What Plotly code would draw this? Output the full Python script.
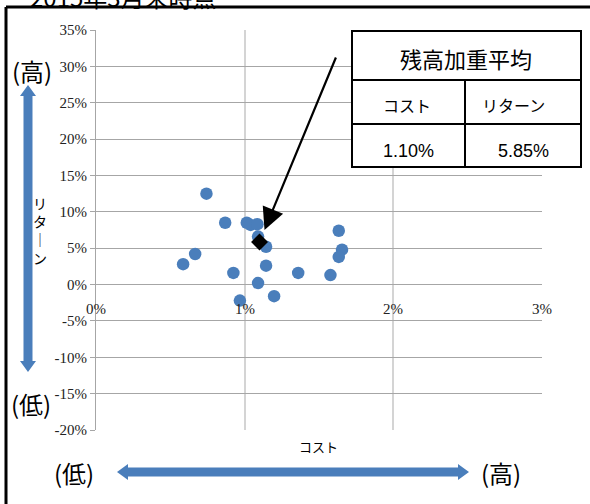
import plotly.graph_objects as go

# ---- data ----
cost = [0.743, 0.869, 1.014, 1.04, 1.086, 1.09, 1.144, 0.667, 0.586, 0.924,
        1.144, 1.09, 1.36, 1.577, 1.633, 1.655, 1.633, 0.968, 1.198]
ret = [12.5, 8.5, 8.5, 8.2, 8.3, 6.6, 5.2, 4.2, 2.8, 1.6,
       2.6, 0.2, 1.6, 1.3, 7.4, 4.8, 3.8, -2.2, -1.6]
avg_cost = 1.10
avg_ret = 5.85
x_tick_vals = [0, 1, 2, 3]
x_tick_text = ["0%", "1%", "2%", "3%"]
y_tick_vals = [-20, -15, -10, -5, 0, 5, 10, 15, 20, 25, 30, 35]
y_tick_text = ["-20%", "-15%", "-10%", "-5%", "0%", "5%", "10%", "15%", "20%", "25%", "30%", "35%"]
title_text = "2015年3月末時点"
table_title = "残高加重平均"
col_labels = ["コスト", "リターン"]
x_title = "コスト"
y_title = "リターン"

W, H = 590, 504
ML, MR, MT, MB = 96, 48, 30, 74
PW, PH = W - ML - MR, H - MT - MB


def px(x):
    return (x - ML) / PW


def py(y):
    return (H - MB - y) / PH


BLUE = "#4a7ebb"
SERIF = "Liberation Serif, DejaVu Serif, serif"
JP = "Noto Sans CJK JP, sans-serif"
SANS = "Liberation Sans, Arial, sans-serif"

fig = go.Figure()
fig.add_trace(go.Scatter(x=cost, y=ret, mode="markers",
                         marker=dict(color=BLUE, size=12.5, line=dict(width=0)),
                         hoverinfo="skip"))
fig.add_trace(go.Scatter(x=[avg_cost], y=[avg_ret], mode="markers",
                         marker=dict(color="black", size=13, symbol="diamond"),
                         hoverinfo="skip"))

shapes = []
ann = []


def poly(points, **kw):
    d = "M " + " L ".join(f"{px(a):.5f},{py(b):.5f}" for a, b in points) + " Z"
    return dict(type="path", path=d, xref="paper", yref="paper", layer="above", **kw)


# vertical blue double arrow
cx, top, bot, hl, hw, sw = 28, 85, 372, 11, 8, 4.5
shapes.append(poly([(cx, top), (cx + hw, top + hl), (cx + sw, top + hl), (cx + sw, bot - hl),
                    (cx + hw, bot - hl), (cx, bot), (cx - hw, bot - hl), (cx - sw, bot - hl),
                    (cx - sw, top + hl), (cx - hw, top + hl)],
                   fillcolor=BLUE, line=dict(width=0)))
# horizontal blue double arrow
cy, lft, rgt = 472, 117, 469
shapes.append(poly([(lft, cy), (lft + hl, cy - hw), (lft + hl, cy - sw), (rgt - hl, cy - sw),
                    (rgt - hl, cy - hw), (rgt, cy), (rgt - hl, cy + hw), (rgt - hl, cy + sw),
                    (lft + hl, cy + sw), (lft + hl, cy + hw)],
                   fillcolor=BLUE, line=dict(width=0)))

# outer frame (top & left)
shapes.append(dict(type="line", xref="paper", yref="paper", x0=px(6), x1=px(600), y0=py(7), y1=py(7),
                   line=dict(color="black", width=3), layer="above"))
shapes.append(dict(type="line", xref="paper", yref="paper", x0=px(6), x1=px(6), y0=py(7), y1=py(510),
                   line=dict(color="black", width=3), layer="above"))

# table
tl, tr, tt, tb, r1, r2, vc = 352, 581, 31, 167, 80, 124, 465
shapes.append(dict(type="rect", xref="paper", yref="paper", x0=px(tl), x1=px(tr), y0=py(tt), y1=py(tb),
                   fillcolor="white", line=dict(color="black", width=2), layer="above"))
for yy in (r1, r2):
    shapes.append(dict(type="line", xref="paper", yref="paper", x0=px(tl), x1=px(tr), y0=py(yy), y1=py(yy),
                       line=dict(color="black", width=2), layer="above"))
shapes.append(dict(type="line", xref="paper", yref="paper", x0=px(vc), x1=px(vc), y0=py(r1), y1=py(tb),
                   line=dict(color="black", width=2), layer="above"))


def text(x, y, s, size, font=JP, xanchor="center", color="black"):
    ann.append(dict(x=px(x), y=py(y), xref="paper", yref="paper", text=s, showarrow=False,
                    xanchor=xanchor, yanchor="middle", font=dict(family=font, size=size, color=color)))


text(466, 58, table_title, 22)
text(407, 105, col_labels[0], 16)
text(513, 105, col_labels[1], 16)
text(408, 151, f"{avg_cost:.2f}%", 18, font=SANS)
text(523, 151, f"{avg_ret:.2f}%", 18, font=SANS)

# title (cut off at top, as in the reference)
text(28, -4, title_text, 24, xanchor="left")

# side labels
text(32, 70, "(高)", 24)
text(31, 403, "(低)", 24)
text(74, 472, "(低)", 24)
text(501, 472, "(高)", 24)
text(40, 231, "<br>".join(["リ", "タ", "｜", "ン"]), 14)
text(318, 446, x_title, 13)

# x tick labels at the y=0 crossing
for v, t in zip(x_tick_vals, x_tick_text):
    ann.append(dict(x=v, y=0, xref="x", yref="y", text=t, showarrow=False, yshift=-24,
                    xanchor="center", yanchor="middle",
                    font=dict(family=SERIF, size=15, color="#222")))

# black arrow to the average point
ann.append(dict(x=avg_cost, y=avg_ret, xref="x", yref="y", text="", showarrow=True,
                ax=77, ay=-186, arrowhead=2, arrowsize=2, arrowwidth=2.2, arrowcolor="black",
                standoff=13))

fig.update_layout(
    width=W, height=H, margin=dict(l=ML, r=MR, t=MT, b=MB, autoexpand=False),
    paper_bgcolor="white", plot_bgcolor="white", showlegend=False,
    shapes=shapes, annotations=ann,
    xaxis=dict(range=[0, 3], tickvals=x_tick_vals, showticklabels=False, showgrid=True,
               gridcolor="#d4d4d4", gridwidth=1.5, zeroline=False, showline=False, fixedrange=True),
    yaxis=dict(range=[-20, 35], tickvals=y_tick_vals, ticktext=y_tick_text, showgrid=True,
               gridcolor="#a6a6a6", gridwidth=1, zeroline=False, showline=True, linecolor="#a6a6a6",
               linewidth=1, ticks="outside", ticklen=5, tickcolor="#a6a6a6",
               tickfont=dict(family=SERIF, size=15, color="#222"), fixedrange=True),
)

fig.write_html("out.html", config={"displayModeBar": False},
               post_script="document.body.style.margin='0';document.body.style.overflow='hidden';")
